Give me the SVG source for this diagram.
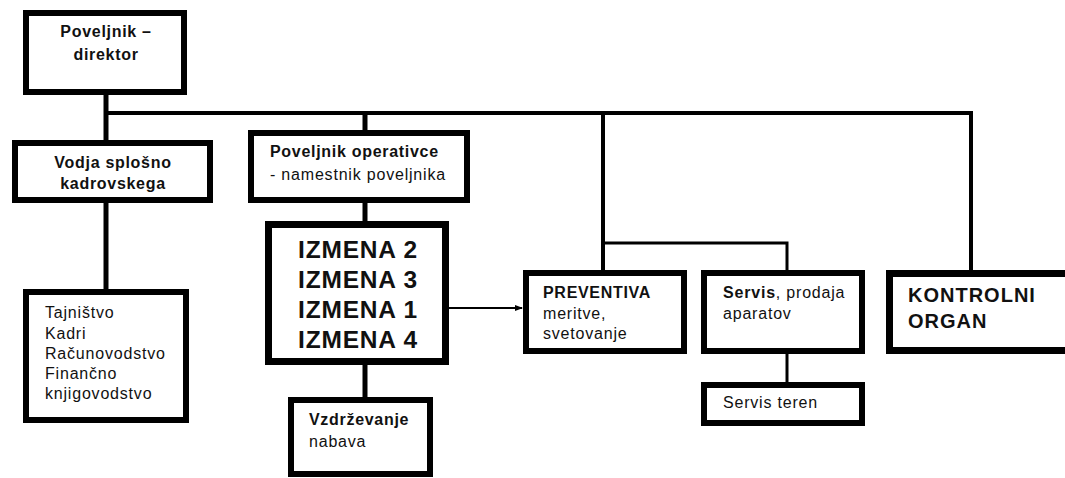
<svg xmlns="http://www.w3.org/2000/svg" width="1065" height="478" viewBox="0 0 1065 478">
<style>
.box{fill:#fff;stroke:#000;stroke-width:6}
.thick{stroke-width:7}
.ln{stroke:#000;fill:none}
text{font-family:"Liberation Sans",Arial,sans-serif;fill:#111}
.b{font-weight:bold;font-size:16px;letter-spacing:0.7px}
.r{font-size:16px;letter-spacing:0.8px}
.big{font-weight:bold;font-size:24.5px;letter-spacing:0.8px}
.k{font-weight:bold;font-size:20px;letter-spacing:1px}
</style>
<defs>
<marker id="ah" markerWidth="8" markerHeight="8" refX="7" refY="4" orient="auto" markerUnits="userSpaceOnUse">
<path d="M0,1 L8,4 L0,7 Z" fill="#000"/>
</marker>
</defs>
<g id="connectors">
<line class="ln" x1="106" y1="92" x2="106" y2="143" stroke-width="5"/>
<line class="ln" x1="104" y1="113" x2="973" y2="113" stroke-width="4"/>
<line class="ln" x1="365" y1="113" x2="365" y2="133" stroke-width="5"/>
<line class="ln" x1="365" y1="200" x2="365" y2="224" stroke-width="5"/>
<line class="ln" x1="365" y1="361" x2="365" y2="400" stroke-width="5"/>
<line class="ln" x1="106" y1="200" x2="106" y2="292" stroke-width="5"/>
<line class="ln" x1="603" y1="113" x2="603" y2="273" stroke-width="4"/>
<polyline class="ln" points="603,243 787,243 787,273" stroke-width="3"/>
<line class="ln" x1="787" y1="351" x2="787" y2="385" stroke-width="3"/>
<line class="ln" x1="971" y1="113" x2="971" y2="273" stroke-width="4"/>
<line class="ln" x1="449" y1="308" x2="522" y2="308" stroke-width="2" marker-end="url(#ah)"/>
</g>
<g id="n-direktor">
<rect class="box" x="26" y="13" width="158" height="79"/>
<text class="b" x="106" y="37" text-anchor="middle">Poveljnik –</text>
<text class="b" x="106" y="60" text-anchor="middle">direktor</text>
</g>
<g id="n-vodja">
<rect class="box" x="15" y="143" width="195" height="57"/>
<text class="b" x="113" y="168" text-anchor="middle">Vodja splošno</text>
<text class="b" x="113" y="189" text-anchor="middle">kadrovskega</text>
</g>
<g id="n-tajnistvo">
<rect class="box" x="26" y="292" width="160" height="128"/>
<text class="r" x="45" y="318">Tajništvo</text>
<text class="r" x="45" y="339">Kadri</text>
<text class="r" x="45" y="359">Računovodstvo</text>
<text class="r" x="45" y="379">Finančno</text>
<text class="r" x="45" y="399">knjigovodstvo</text>
</g>
<g id="n-operativa">
<rect class="box" x="251" y="133" width="216" height="67"/>
<text class="b" x="270" y="157">Poveljnik operativce</text>
<text class="r" x="270" y="180">- namestnik poveljnika</text>
</g>
<g id="n-izmena">
<rect class="box thick" x="268.5" y="224.5" width="177" height="137"/>
<text class="big" x="358" y="258" text-anchor="middle">IZMENA 2</text>
<text class="big" x="358" y="288" text-anchor="middle">IZMENA 3</text>
<text class="big" x="358" y="318" text-anchor="middle">IZMENA 1</text>
<text class="big" x="358" y="348" text-anchor="middle">IZMENA 4</text>
</g>
<g id="n-vzdrzevanje">
<rect class="box" x="291" y="400" width="139" height="74"/>
<text class="b" x="309" y="425">Vzdrževanje</text>
<text class="r" x="309" y="447">nabava</text>
</g>
<g id="n-preventiva">
<rect class="box" x="526" y="273" width="158" height="78"/>
<text class="b" x="543" y="298">PREVENTIVA</text>
<text class="r" x="543" y="319">meritve,</text>
<text class="r" x="543" y="339">svetovanje</text>
</g>
<g id="n-servis">
<rect class="box" x="704" y="273" width="158" height="78"/>
<text class="r" x="723" y="298"><tspan font-weight="bold">Servis</tspan>, prodaja</text>
<text class="r" x="723" y="319">aparatov</text>
</g>
<g id="n-servis-teren">
<rect class="box" x="704" y="385" width="158" height="38"/>
<text class="r" x="723" y="408">Servis teren</text>
</g>
<g id="n-kontrolni">
<rect class="box thick" x="889.5" y="273.5" width="180" height="77"/>
<text class="k" x="908" y="302">KONTROLNI</text>
<text class="k" x="908" y="328">ORGAN</text>
</g>
</svg>
